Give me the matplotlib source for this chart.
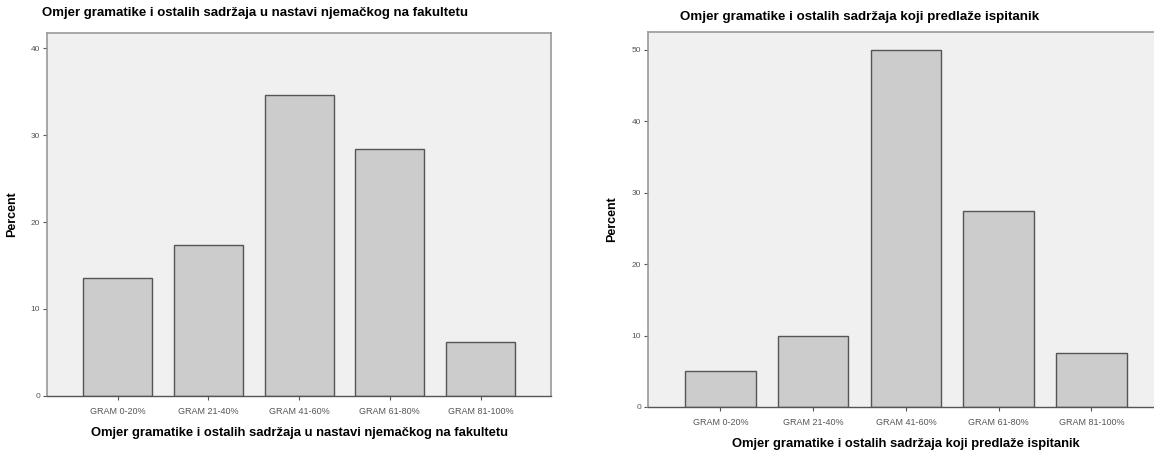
import numpy as np
import matplotlib.pyplot as plt

# categories shared by both charts
categories = ["GRAM 0-20%", "GRAM 21-40%", "GRAM 41-60%", "GRAM 61-80%", "GRAM 81-100%"]

# percent values
faculty_pct = [13.6, 17.3, 34.6, 28.4, 6.2]
respondent_pct = [5.0, 10.0, 50.0, 27.5, 7.5]

title_left = "Omjer gramatike i ostalih sadržaja u nastavi njemačkog na fakultetu"
title_right = "Omjer gramatike i ostalih sadržaja koji predlaže ispitanik"

plt.rcParams['font.family'] = ['Liberation Sans', 'DejaVu Sans']

fig = plt.figure(figsize=(11.54, 4.5), dpi=100)

# axes placed to match the reference pixel layout
ax1 = fig.add_axes([0.0407, 0.121, 0.437, 0.806])
ax2 = fig.add_axes([0.5615, 0.0956, 0.447, 0.833])


def draw(ax, vals, yticks, ymax, xlabel):
    x = np.arange(len(categories))
    ax.set_facecolor("#f0f0f0")
    ax.bar(x, vals, width=0.76, color="#cccccc", edgecolor="#555555", linewidth=1.0, zorder=2)
    ax.set_xlim(-0.78, 4.78)
    ax.set_ylim(0, ymax)
    ax.set_xticks(x)
    ax.set_xticklabels(categories, fontsize=6.5, color="#555555")
    ax.set_yticks(yticks)
    ax.set_yticklabels([str(t) for t in yticks], fontsize=6, color="#555555")
    ax.tick_params(axis="both", direction="out", length=3, width=0.8, color="#555555", pad=2)
    ax.tick_params(axis="x", pad=5)
    for s in ["top", "right", "left"]:
        ax.spines[s].set_color("#999999")
        ax.spines[s].set_linewidth(1.2)
    ax.spines["bottom"].set_color("#555555")
    ax.spines["bottom"].set_linewidth(1.0)
    ax.set_ylabel("Percent", fontsize=9, fontweight="bold")
    ax.set_xlabel(xlabel, fontsize=9.4, fontweight="bold", labelpad=8)


draw(ax1, faculty_pct, [0, 10, 20, 30, 40], 41.8, title_left)
draw(ax2, respondent_pct, [0, 10, 20, 30, 40, 50], 52.5, title_right)

ax1.yaxis.set_label_coords(-0.057, 0.5)
ax2.yaxis.set_label_coords(-0.057, 0.5)

fig.text(42 / 1154, 1 - 13 / 450, title_left, fontsize=9.5, fontweight="bold", va="center", ha="left")
fig.text(680 / 1154, 1 - 17 / 450, title_right, fontsize=9.6, fontweight="bold", va="center", ha="left")

fig.savefig("out.png", dpi=100)
